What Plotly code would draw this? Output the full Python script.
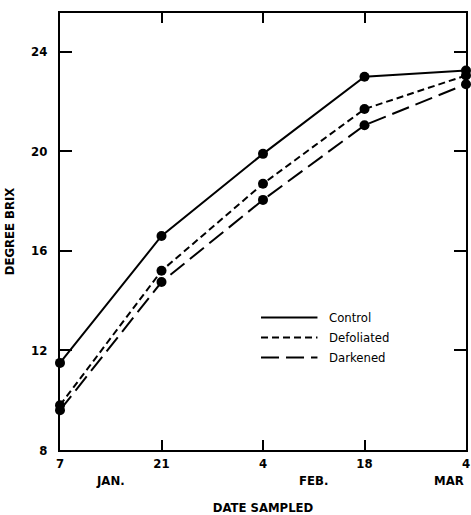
import plotly.graph_objects as go

dates = ["7", "21", "4", "18", "4"]
months = ["JAN.", "FEB.", "MAR"]
month_pos = [0.5, 2.5, 4.0]
control = [11.5, 16.6, 19.9, 23.0, 23.25]
defoliated = [9.8, 15.2, 18.7, 21.7, 23.05]
darkened = [9.6, 14.75, 18.05, 21.05, 22.7]
y_ticks = [8, 12, 16, 20, 24]
series_names = ["Control", "Defoliated", "Darkened"]

xpos = list(range(len(dates)))
FONT = "DejaVu Sans Condensed"
BF = dict(size=13, family=FONT, weight="bold", color="black")

fig = go.Figure()
styles = [("solid", control), ("7px,4px", defoliated), ("18px,7px", darkened)]
for name, (dash, vals) in zip(series_names, styles):
    fig.add_trace(go.Scatter(
        x=xpos, y=vals, mode="lines+markers", name=name,
        line=dict(color="black", width=2, dash=dash),
        marker=dict(color="black", size=10),
        cliponaxis=False, showlegend=False))

fig.update_layout(
    width=471, height=515,
    margin=dict(l=60, r=1, t=13, b=63),
    paper_bgcolor="white", plot_bgcolor="white",
    font=dict(family=FONT, color="black", size=13),
    xaxis=dict(range=[0, 4], tickvals=xpos, ticktext=dates,
               showline=True, linecolor="black", linewidth=2, mirror="allticks",
               ticks="inside", ticklen=10, tickwidth=1.5, tickcolor="black",
               showgrid=False, zeroline=False, ticklabeloverflow="allow",
               tickfont=BF,
               title=dict(text="DATE SAMPLED", font=BF, standoff=34)),
    yaxis=dict(range=[8, 25.56], tickvals=y_ticks,
               showline=True, linecolor="black", linewidth=2, mirror="allticks",
               ticks="inside", ticklen=12, tickwidth=1.5, tickcolor="black",
               showgrid=False, zeroline=False, ticklabelstandoff=8,
               tickfont=BF,
               title=dict(text="DEGREE BRIX", font=BF, standoff=14)),
)

for m, p in zip(months, month_pos):
    fig.add_annotation(x=p, xref="x", y=-0.07, yref="paper", text=m, showarrow=False,
                       xanchor="right" if p >= 4 else "center", yanchor="middle",
                       font=BF)

# legend
leg_y = [319, 339, 359]
dashes = ["solid", "7px,4px", "18px,7px"]
for name, yy, d in zip(series_names, leg_y, dashes):
    yp = 1 - (yy - 13) / (452 - 13)
    fig.add_shape(type="line", xref="paper", yref="paper",
                  x0=(263 - 60) / 410, x1=(320 - 60) / 410, y0=yp, y1=yp,
                  line=dict(color="black", width=2, dash=d))
    fig.add_annotation(x=(330 - 60) / 410, xref="paper", y=yp, yref="paper", text=name,
                       showarrow=False, xanchor="left", yanchor="middle",
                       font=dict(size=13, family=FONT, color="black"))

fig.write_html("out.html")
